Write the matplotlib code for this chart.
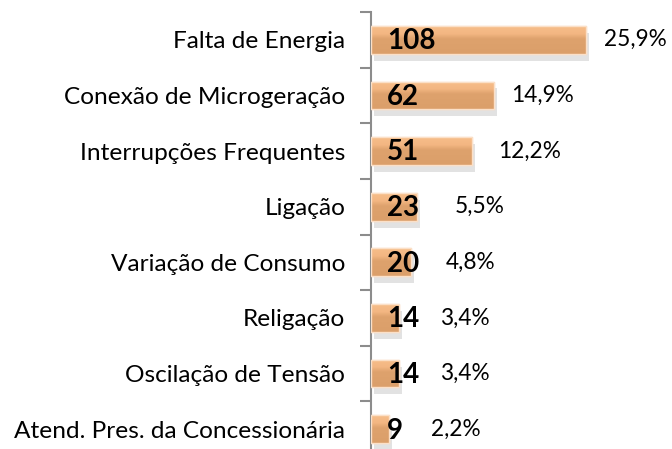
import matplotlib
matplotlib.use("Agg")
import matplotlib.pyplot as plt
import matplotlib.patheffects as pe
from matplotlib.colors import LinearSegmentedColormap
import numpy as np

categories = ["Falta de Energia", "Conexão de Microgeração", "Interrupções Frequentes",
              "Ligação", "Variação de Consumo", "Religação", "Oscilação de Tensão",
              "Atend. Pres. da Concessionária"]
counts = [108, 62, 51, 23, 20, 14, 14, 9]
pct_labels = ["25,9%", "14,9%", "12,2%", "5,5%", "4,8%", "3,4%", "3,4%", "2,2%"]

# layout: pixel offsets of percentage labels from the bar end
pct_offsets_px = [18, 17, 26, 38, 35, 41, 41, 42]

W, H = 672, 449
fig = plt.figure(figsize=(W / 100, H / 100), dpi=100)
plt.rcParams['font.family'] = ['Lato', 'DejaVu Sans']

ax_left = 371 / W
ax_top = 12
ax_bottom = 457
ax = fig.add_axes([ax_left, (H - ax_bottom) / H, 298.5 / W, (ax_bottom - ax_top) / H])

n = len(categories)
y = np.arange(n)
bars = ax.barh(y, counts, height=0.5, color="#DDA16C", edgecolor="#FBE0C8", linewidth=1.0, zorder=3)

grad_cmap = LinearSegmentedColormap.from_list(
    "bar", [(0.0, "#F7BE8A"), (0.28, "#F3B682"), (0.45, "#DEA26D"), (1.0, "#DB9F6A")])
grad = np.linspace(0, 1, 64).reshape(-1, 1)

for b in bars:
    b.set_path_effects([pe.SimplePatchShadow(offset=(2, -5), shadow_rgbFace="#A0A0A0", alpha=0.3),
                        pe.Normal()])
    x0, y0 = b.get_x(), b.get_y()
    w, h = b.get_width(), b.get_height()
    im = ax.imshow(grad, cmap=grad_cmap, aspect="auto", extent=(x0, x0 + w, y0 + h, y0),
                   origin="upper", zorder=3.5, interpolation="bilinear")
    im.set_clip_path(b)
    ax.add_patch(plt.Rectangle((x0, y0), w, h, fill=False, edgecolor="#FBE0C8", lw=1.0, zorder=3.6))

ax.set_xlim(0, 150)
ax.set_ylim(n - 0.5, -0.5)
ax.set_aspect("auto")

for yi, c, p, off in zip(y, counts, pct_labels, pct_offsets_px):
    ax.annotate(str(c), xy=(0, yi), xytext=(11.5, -1), textcoords="offset points",
                ha="left", va="center", fontsize=20, fontweight="bold", color="black", zorder=5)
    ax.annotate(p, xy=(c, yi), xytext=(off * 0.72, 0), textcoords="offset points",
                ha="left", va="center", fontsize=16.3, color="black", zorder=5)

ax.set_yticks(y)
ax.set_yticklabels(categories, fontsize=17.6)
ax.set_yticks(np.arange(-0.5, n, 1.0), minor=True)
ax.tick_params(axis="y", which="major", length=0, pad=18.5)
ax.tick_params(axis="y", which="minor", length=8, width=1.5, color="#8C8C8C", direction="out")
ax.set_xticks([])
for s in ["top", "right", "bottom"]:
    ax.spines[s].set_visible(False)
ax.spines["left"].set_color("#8C8C8C")
ax.spines["left"].set_linewidth(1.5)
ax.patch.set_alpha(0)

fig.savefig("out.png", dpi=100)
